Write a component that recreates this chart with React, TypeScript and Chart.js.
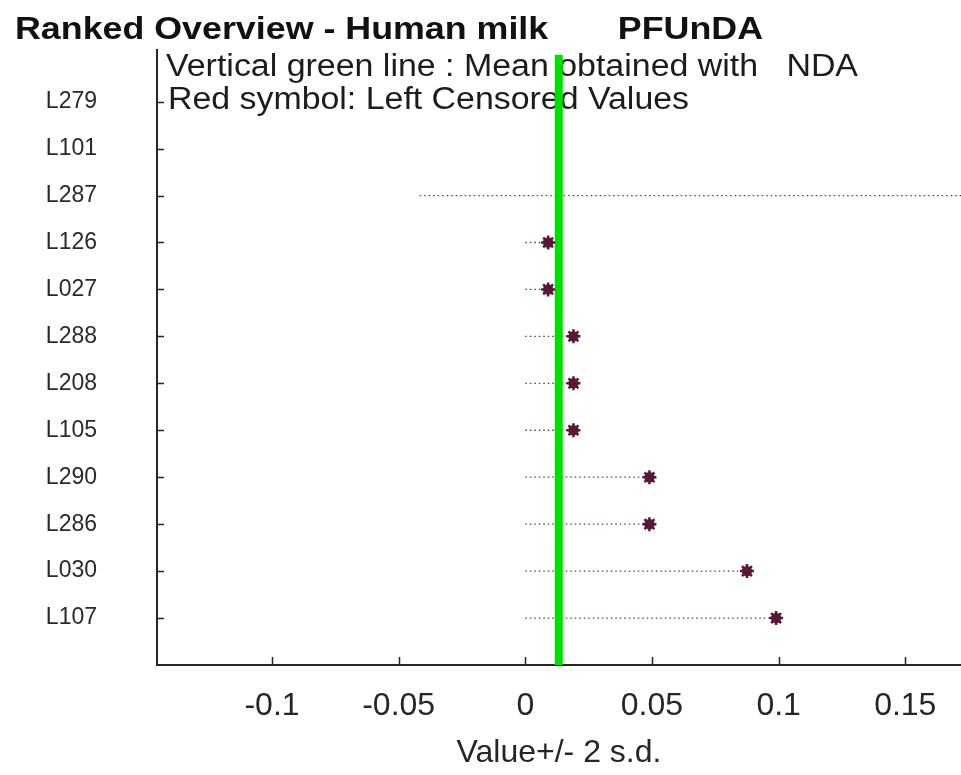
import React, { useEffect, useRef } from 'react';
import { Chart, registerables } from 'chart.js';

Chart.register(...registerables);

const TITLE = 'Ranked Overview - Human milk       PFUnDA';
const SUBTITLE_1 = 'Vertical green line : Mean obtained with   NDA';
const SUBTITLE_2 = 'Red symbol: Left Censored Values';
const X_TITLE = 'Value+/- 2 s.d.';

const LABS = ['L279', 'L101', 'L287', 'L126', 'L027', 'L288', 'L208', 'L105', 'L290', 'L286', 'L030', 'L107'];
const VALUES: (number | null)[] = [null, null, null, 0.009, 0.009, 0.019, 0.019, 0.019, 0.049, 0.049, 0.0875, 0.099];
const LOWER: (number | null)[] = [null, null, -0.0417, 0, 0, 0, 0, 0, 0, 0, 0, 0];
const UPPER: (number | null)[] = [null, null, 0.4, 0.009, 0.009, 0.019, 0.019, 0.019, 0.049, 0.049, 0.0875, 0.099];
const MEAN = 0.0132;

const X_TICKS = [-0.1, -0.05, 0, 0.05, 0.1, 0.15];
const X_MIN = -0.1454;
const X_MAX = 0.172;
const Y_MIN = -0.1;
const Y_MAX = 13;

const FONT = '"Liberation Sans", Arial, Helvetica, sans-serif';
const MAROON = '#5a1838';

function drawFitted(ctx: CanvasRenderingContext2D, text: string, font: string, x: number, y: number, width: number, color: string) {
  ctx.save();
  ctx.font = font;
  ctx.fillStyle = color;
  ctx.textBaseline = 'alphabetic';
  ctx.textAlign = 'left';
  const w = ctx.measureText(text).width;
  const sx = width / w;
  ctx.translate(x, y);
  ctx.scale(sx, 1);
  ctx.fillText(text, 0, 0);
  ctx.restore();
}

const textPlugin = {
  id: 'textPlugin',
  beforeDatasetsDraw(chart: any) {
    const ctx = chart.ctx as CanvasRenderingContext2D;
    drawFitted(ctx, SUBTITLE_1, `31px ${FONT}`, 166, 76, 692, '#1c1c1c');
    drawFitted(ctx, SUBTITLE_2, `31px ${FONT}`, 168, 109, 521, '#1c1c1c');
  },
  afterDraw(chart: any) {
    const ctx = chart.ctx as CanvasRenderingContext2D;
    drawFitted(ctx, TITLE, `bold 32px ${FONT}`, 15, 39, 748, '#111111');
    // inward tick marks
    const xs = chart.scales.x;
    const ys = chart.scales.y;
    const area = chart.chartArea;
    ctx.save();
    ctx.strokeStyle = '#262626';
    ctx.lineWidth = 1.5;
    ctx.beginPath();
    X_TICKS.forEach((v) => {
      const px = Math.round(xs.getPixelForValue(v)) + 0.5;
      ctx.moveTo(px, area.bottom);
      ctx.lineTo(px, area.bottom - 8);
    });
    LABS.forEach((_, i) => {
      const py = Math.round(ys.getPixelForValue(i + 1)) + 0.5;
      ctx.moveTo(area.left, py);
      ctx.lineTo(area.left + 7, py);
    });
    ctx.stroke();
    ctx.restore();
  },
};

function zeroPadding(scale: any) {
  scale.paddingTop = 0;
  scale.paddingBottom = 0;
  scale.paddingLeft = 0;
  scale.paddingRight = 0;
}

export default function App() {
  const ref = useRef<HTMLCanvasElement | null>(null);

  useEffect(() => {
    if (!ref.current) return;

    const points = VALUES.map((v, i) => (v === null ? null : { x: v, y: i + 1 })).filter(Boolean) as { x: number; y: number }[];
    const segments: { x: number; y: number | null }[] = [];
    LOWER.forEach((lo, i) => {
      const hi = UPPER[i];
      if (lo === null || hi === null) return;
      segments.push({ x: lo, y: i + 1 });
      segments.push({ x: hi, y: i + 1 });
      segments.push({ x: hi, y: null });
    });

    const chart = new Chart(ref.current, {
      type: 'scatter',
      data: {
        datasets: [
          {
            label: 'star',
            data: points,
            pointStyle: 'star',
            pointRadius: 7,
            borderWidth: 2.5,
            borderColor: MAROON,
            backgroundColor: MAROON,
            showLine: false,
          },
          {
            label: 'values',
            data: points,
            pointStyle: 'circle',
            pointRadius: 5.2,
            borderWidth: 0,
            backgroundColor: MAROON,
            showLine: false,
          },
          {
            label: 'mean',
            data: [
              { x: MEAN, y: 0 },
              { x: MEAN, y: Y_MAX },
            ],
            showLine: true,
            borderColor: '#00e000',
            borderWidth: 8,
            pointRadius: 0,
          },
          {
            label: 'range',
            data: segments as any,
            showLine: true,
            spanGaps: false,
            borderColor: '#5a3a48',
            borderWidth: 1.3,
            borderDash: [1.5, 3],
            pointRadius: 0,
          },
        ],
      },
      options: {
        animation: false,
        responsive: true,
        maintainAspectRatio: false,
        layout: { autoPadding: false, padding: { top: 50, left: 0, right: 0, bottom: 0 } },
        plugins: {
          legend: { display: false },
          tooltip: { enabled: false },
          title: { display: false },
        },
        scales: {
          x: {
            type: 'linear',
            min: X_MIN,
            max: X_MAX,
            afterBuildTicks: (scale: any) => {
              scale.ticks = X_TICKS.map((v) => ({ value: v }));
            },
            afterFit: (scale: any) => {
              scale.height = 110;
              zeroPadding(scale);
            },
            grid: { display: false, drawTicks: false },
            border: { display: true, color: '#262626', width: 2 },
            ticks: {
              padding: 22,
              color: '#262626',
              font: { family: FONT, size: 32 },
              maxRotation: 0,
              autoSkip: false,
              callback: (v: any) => `${Math.round(Number(v) * 100) / 100}`,
            },
            title: {
              display: true,
              text: X_TITLE,
              color: '#262626',
              font: { family: FONT, size: 32 },
              padding: { top: 0, bottom: 3 },
            },
          },
          y: {
            type: 'linear',
            reverse: true,
            min: Y_MIN,
            max: Y_MAX,
            afterBuildTicks: (scale: any) => {
              scale.ticks = LABS.map((_, i) => ({ value: i + 1 }));
            },
            afterFit: (scale: any) => {
              scale.width = 157;
              zeroPadding(scale);
            },
            grid: { display: false, drawTicks: false },
            border: { display: true, color: '#262626', width: 2 },
            ticks: {
              padding: 60,
              color: '#2a2a2a',
              font: { family: FONT, size: 23 },
              autoSkip: false,
              callback: (v: any) => LABS[Math.round(Number(v)) - 1] ?? '',
            },
          },
        },
      },
      plugins: [textPlugin],
    });

    return () => chart.destroy();
  }, []);

  return (
    <div style={{ position: 'absolute', left: 0, top: 0, width: 961, height: 775, background: '#ffffff' }}>
      <canvas ref={ref} />
    </div>
  );
}
